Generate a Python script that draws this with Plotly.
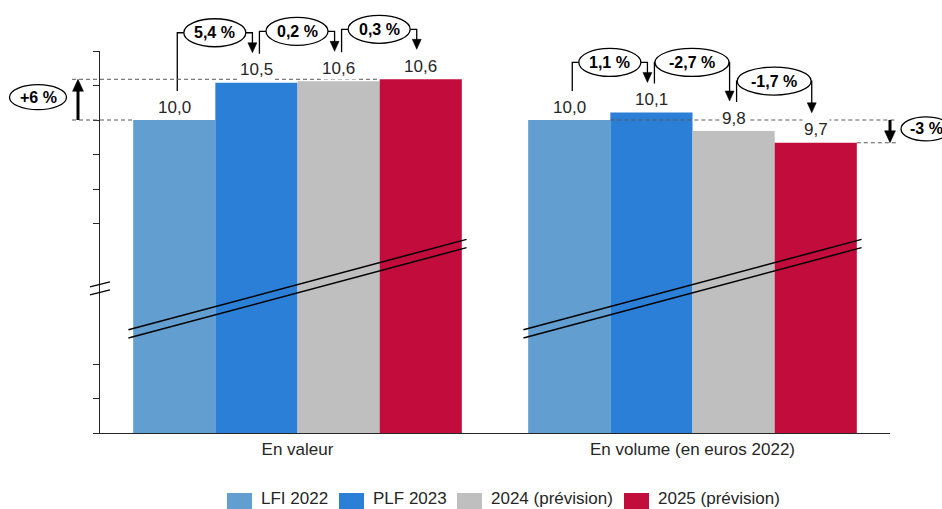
import plotly.graph_objects as go

# ---- data -------------------------------------------------------------
CATEGORIES = ["En valeur", "En volume (en euros 2022)"]
SERIES = ["LFI 2022", "PLF 2023", "2024 (prévision)", "2025 (prévision)"]
# one list per series: [en valeur, en volume], in Md€
LFI_2022 = [10.0, 10.0]
PLF_2023 = [10.54, 10.11]
PREV_2024 = [10.56, 9.84]
PREV_2025 = [10.59, 9.67]
# year-on-year changes between consecutive bars, per group
STEPS_VALEUR = ["5,4 %", "0,2 %", "0,3 %"]
STEPS_VOLUME = ["1,1 %", "-2,7 %", "-1,7 %"]
# overall change LFI 2022 -> 2025, per group
TOTALS = ["+6 %", "-3 %"]

VALUES = [LFI_2022, PLF_2023, PREV_2024, PREV_2025]
STEPS = [STEPS_VALEUR, STEPS_VOLUME]

# ---- styling / geometry ----------------------------------------------
COLORS = ["#629ed0", "#2b7fd6", "#bfbfbf", "#c20c3b"]
FONT = "Liberation Sans, Arial, sans-serif"
TXT = "#262626"
W, H = 942, 509
L, R, T, B = 100, 52, 51, 76
PLOT_W = W - L - R
PLOT_H = H - T - B
X_RANGE = (-0.5, 1.5)
PX_PER_UNIT = 69
Y_TOP = 11.0
Y_RANGE = (Y_TOP - PLOT_H / PX_PER_UNIT, Y_TOP)
BARGAP = 0.168
BW = (1 - BARGAP) / len(SERIES)
LEGEND_X = [227, 339, 457, 624]


def bar_x(g, k):
    return g + (k - (len(SERIES) - 1) / 2) * BW


def px_x(d):
    return L + (d - X_RANGE[0]) / (X_RANGE[1] - X_RANGE[0]) * PLOT_W


def px_y(v):
    return T + (Y_RANGE[1] - v) / (Y_RANGE[1] - Y_RANGE[0]) * PLOT_H


def paper(px, py):
    return (px - L) / PLOT_W, (T + PLOT_H - py) / PLOT_H


def fmt(v):
    return f"{v:.1f}".replace(".", ",")


shapes = []
annotations = []


def seg(p0, p1, width=1.3, color="black", dash=None):
    x0, y0 = paper(*p0)
    x1, y1 = paper(*p1)
    shapes.append(dict(type="line", xref="paper", yref="paper", x0=x0, y0=y0,
                       x1=x1, y1=y1, layer="above",
                       line=dict(color=color, width=width, dash=dash)))


def polyline(points, width=1.3):
    pts = [paper(*p) for p in points]
    d = "M" + " L".join(f"{x:.5f},{y:.5f}" for x, y in pts)
    shapes.append(dict(type="path", xref="paper", yref="paper", path=d,
                       layer="above", fillcolor="rgba(0,0,0,0)",
                       line=dict(color="black", width=width)))


def triangle(tip, half_w, h, up):
    tx, ty = tip
    by = ty + h if up else ty - h
    pts = [paper(tx, ty), paper(tx - half_w, by), paper(tx + half_w, by)]
    d = "M" + " L".join(f"{x:.5f},{y:.5f}" for x, y in pts) + " Z"
    shapes.append(dict(type="path", xref="paper", yref="paper", path=d,
                       layer="above", fillcolor="black",
                       line=dict(color="black", width=0.5)))


def bubble(cx, cy, w, h, text):
    x0, y0 = paper(cx - w / 2, cy + h / 2)
    x1, y1 = paper(cx + w / 2, cy - h / 2)
    shapes.append(dict(type="circle", xref="paper", yref="paper", x0=x0, y0=y0,
                       x1=x1, y1=y1, layer="above", fillcolor="white",
                       line=dict(color="black", width=1.3)))
    ax, ay = paper(cx, cy)
    annotations.append(dict(xref="paper", yref="paper", x=ax, y=ay,
                            text=f"<b>{text}</b>", showarrow=False,
                            xanchor="center", yanchor="middle",
                            font=dict(family=FONT, size=16, color="black")))


# ---- bars -------------------------------------------------------------
fig = go.Figure()
for k, name in enumerate(SERIES):
    fig.add_trace(go.Bar(x=[0, 1], y=VALUES[k], name=name,
                         marker=dict(color=COLORS[k], line=dict(width=0)),
                         showlegend=False, hoverinfo="skip"))

# value labels above each bar (white box hides the guide lines)
for g in range(len(CATEGORIES)):
    for k in range(len(SERIES)):
        annotations.append(dict(xref="x", yref="y", x=bar_x(g, k), y=VALUES[k][g],
                                text=fmt(VALUES[k][g]), showarrow=False,
                                yanchor="middle", yshift=13, bgcolor="white",
                                borderpad=1,
                                font=dict(family=FONT, size=17, color=TXT)))

# ---- step brackets between consecutive bars ----------------------------
for g in range(len(CATEGORIES)):
    for k in range(len(SERIES) - 1):
        top_a = px_y(VALUES[k][g])
        top_b = px_y(VALUES[k + 1][g])
        xs = px_x(bar_x(g, k)) + 3
        xe = px_x(bar_x(g, k + 1)) - 4
        y_bot = top_a - 29
        y_lvl = min(top_a, top_b) - 50
        y_tip = top_b - 30
        label = STEPS[g][k]
        ew = min(xe - xs, 12 * len(label) + 2)
        xc = (xs + xe) / 2
        polyline([(xs, y_bot), (xs, y_lvl), (xc - ew / 2, y_lvl)])
        polyline([(xc + ew / 2, y_lvl), (xe, y_lvl), (xe, y_tip - 9)])
        triangle((xe, y_tip), 4.5, 10, up=False)
        bubble(xc, y_lvl, ew, 28, label)

# ---- overall change markers --------------------------------------------
DASH = "4px,3px"
GUIDE = "#595959"
first_left = px_x(bar_x(0, 0) - BW / 2)
last_left = px_x(bar_x(0, 3) - BW / 2)
y_start = px_y(LFI_2022[0])
y_end = px_y(PREV_2025[0])
seg((L - 28, y_start), (first_left, y_start), 1, GUIDE, DASH)
seg((L - 28, y_end), (last_left, y_end), 1, GUIDE, DASH)
seg((L - 22, y_start), (L - 22, y_end + 11), 3)
triangle((L - 22, y_end), 5.5, 12, up=True)
bubble(L - 62, (y_start + y_end) / 2 - 2.5, 57, 25, TOTALS[0])

first_right = px_x(bar_x(1, 0) + BW / 2)
last_right = px_x(bar_x(1, 3) + BW / 2)
y_start = px_y(LFI_2022[1])
y_end = px_y(PREV_2025[1])
seg((first_right, y_start), (L + PLOT_W + 7, y_start), 1, GUIDE, DASH)
seg((last_right, y_end), (L + PLOT_W + 7, y_end), 1, GUIDE, DASH)
seg((L + PLOT_W, y_start), (L + PLOT_W, y_end - 11), 3)
triangle((L + PLOT_W, y_end), 5.5, 12, up=False)
bubble(L + PLOT_W + 36, (y_start + y_end) / 2 - 2.5, 50, 24, TOTALS[1])

# ---- axis break markers -------------------------------------------------
BREAK_Y = (6.96, 8.27)
BREAK_GAP = 0.12
for g in range(len(CATEGORIES)):
    for off in (0, -BREAK_GAP):
        shapes.append(dict(type="line", xref="x", yref="y",
                           x0=g - 0.428, x1=g + 0.428,
                           y0=BREAK_Y[0] + off, y1=BREAK_Y[1] + off,
                           layer="above", line=dict(color="black", width=1.5)))
AXIS_BREAK = 7.56
yc = px_y(AXIS_BREAK)
seg((L - 10, yc - 1.5), (L + 10, yc - 6.5), 1.5)
seg((L - 10, yc + 6.5), (L + 10, yc + 1.5), 1.5)

# ---- legend ------------------------------------------------------------
for k, name in enumerate(SERIES):
    x0, y0 = paper(LEGEND_X[k], 493)
    x1, y1 = paper(LEGEND_X[k] + 25, 518)
    shapes.append(dict(type="rect", xref="paper", yref="paper", x0=x0, y0=y0,
                       x1=x1, y1=y1, fillcolor=COLORS[k], line=dict(width=0)))
    tx, ty = paper(LEGEND_X[k] + 31.5, 499)
    annotations.append(dict(xref="paper", yref="paper", x=tx, y=ty, text=name,
                            showarrow=False, xanchor="left", yanchor="middle",
                            font=dict(family=FONT, size=17, color=TXT)))

# ---- layout ------------------------------------------------------------
y_ticks = [Y_RANGE[0] + i * 0.5 for i in range(3)] + [8.5, 9.0, 9.5, 10.0, 10.5, 11.0]
fig.update_layout(
    width=W, height=H, margin=dict(l=L, r=R, t=T, b=B),
    paper_bgcolor="white", plot_bgcolor="white",
    barmode="group", bargap=BARGAP, bargroupgap=0,
    font=dict(family=FONT, size=17, color=TXT),
    xaxis=dict(range=list(X_RANGE), tickvals=[0, 1], ticktext=CATEGORIES,
               showline=True, linecolor="#262626", linewidth=1.3, ticks="",
               showgrid=False, zeroline=False,
               tickfont=dict(family=FONT, size=17, color=TXT)),
    yaxis=dict(range=list(Y_RANGE), tickvals=y_ticks, showticklabels=False,
               ticks="outside", ticklen=6, tickwidth=1.3, tickcolor="#262626",
               showline=True, linecolor="#262626", linewidth=1.3,
               showgrid=False, zeroline=False),
    shapes=shapes, annotations=annotations, showlegend=False,
)

fig.write_html("out.html")
